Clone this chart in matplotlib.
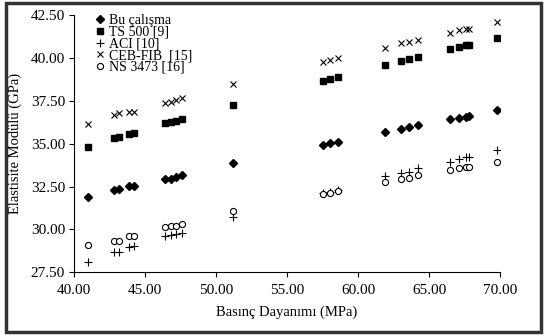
import matplotlib
matplotlib.use("Agg")
import matplotlib.pyplot as plt
from matplotlib.patches import Rectangle

# compressive strength (MPa), shared by all series
strength = [41.0, 42.8, 43.2, 43.9, 44.2, 46.4, 46.8, 47.2, 47.6, 51.2,
            57.5, 58.0, 58.6, 61.9, 63.0, 63.6, 64.2, 66.5, 67.1, 67.6, 67.8, 69.8]

# elastic modulus (GPa)
bu_calisma = [31.92, 32.31, 32.37, 32.55, 32.56, 32.94, 32.95, 33.07, 33.15, 33.87,
              34.93, 35.03, 35.12, 35.67, 35.88, 35.96, 36.08, 36.43, 36.50, 36.58, 36.62, 36.97]
ts500 = [34.83, 35.32, 35.38, 35.57, 35.61, 36.20, 36.25, 36.35, 36.43, 37.26,
         38.68, 38.77, 38.87, 39.59, 39.82, 39.94, 40.05, 40.52, 40.64, 40.74, 40.75, 41.18]
aci = [28.10, 28.66, 28.70, 28.96, 29.01, 29.64, 29.68, 29.71, 29.79, 30.70,
       32.10, 32.18, 32.28, 33.09, 33.29, 33.38, 33.58, 33.96, 34.10, 34.25, 34.25, 34.64]
ceb_fib = [36.15, 36.68, 36.78, 36.83, 36.87, 37.36, 37.45, 37.55, 37.65, 38.47,
           39.78, 39.88, 39.98, 40.60, 40.85, 40.95, 41.05, 41.47, 41.63, 41.70, 41.70, 42.11]
ns3473 = [29.07, 29.30, 29.35, 29.60, 29.64, 30.12, 30.18, 30.22, 30.32, 31.05,
          32.05, 32.13, 32.23, 32.76, 32.94, 33.03, 33.15, 33.48, 33.58, 33.63, 33.67, 33.96]

x_ticks = [40, 45, 50, 55, 60, 65, 70]
y_ticks = [27.5, 30.0, 32.5, 35.0, 37.5, 40.0, 42.5]

plt.rcParams['font.family'] = ['Liberation Serif', 'DejaVu Serif']

fig = plt.figure(figsize=(5.46, 3.35), dpi=100)
ax = fig.add_axes([0.1355, 0.187, 0.7803, 0.768])

ax.plot(strength, bu_calisma, linestyle='none', marker='D', ms=3.9,
        color='black', label='Bu çalışma')
ax.plot(strength, ts500, linestyle='none', marker='s', ms=5.0,
        color='black', label='TS 500 [9]')
ax.plot(strength, aci, linestyle='none', marker='+', ms=5.5, mew=0.8,
        color='black', label='ACI [10]')
ax.plot(strength, ceb_fib, linestyle='none', marker='x', ms=4.5, mew=0.8,
        color='black', label='CEB-FIB  [15]')
ax.plot(strength, ns3473, linestyle='none', marker='o', ms=4.4, mew=0.8,
        markerfacecolor='white', markeredgecolor='black', label='NS 3473 [16]')

ax.set_xlim(40, 70)
ax.set_ylim(27.5, 42.5)
ax.set_xticks(x_ticks)
ax.set_yticks(y_ticks)
ax.set_xticklabels([f"{v:.2f}" for v in x_ticks])
ax.set_yticklabels([f"{v:.2f}" for v in y_ticks])
ax.tick_params(direction='out', length=3.5, width=0.8, labelsize=11, pad=3)
ax.tick_params(axis='x', pad=5)

for side in ['top', 'right']:
    ax.spines[side].set_visible(False)
for side in ['left', 'bottom']:
    ax.spines[side].set_linewidth(0.8)

ax.set_xlabel('Basınç Dayanımı (MPa)', fontsize=10.5, labelpad=6)
ax.set_ylabel('Elastisite Modülü (GPa)', fontsize=10.5, labelpad=6)

leg = ax.legend(loc='upper left', bbox_to_anchor=(0.035, 1.03), frameon=False,
                fontsize=10, numpoints=1, handlelength=0.6, handletextpad=0.35,
                labelspacing=-0.1, borderpad=0.0)

# dark border round the whole chart area
fig.patches.append(Rectangle((0.011, 0.008), 0.98, 0.984, transform=fig.transFigure,
                             fill=False, edgecolor='#333333', linewidth=2.5))

fig.savefig('out.png', dpi=100)
